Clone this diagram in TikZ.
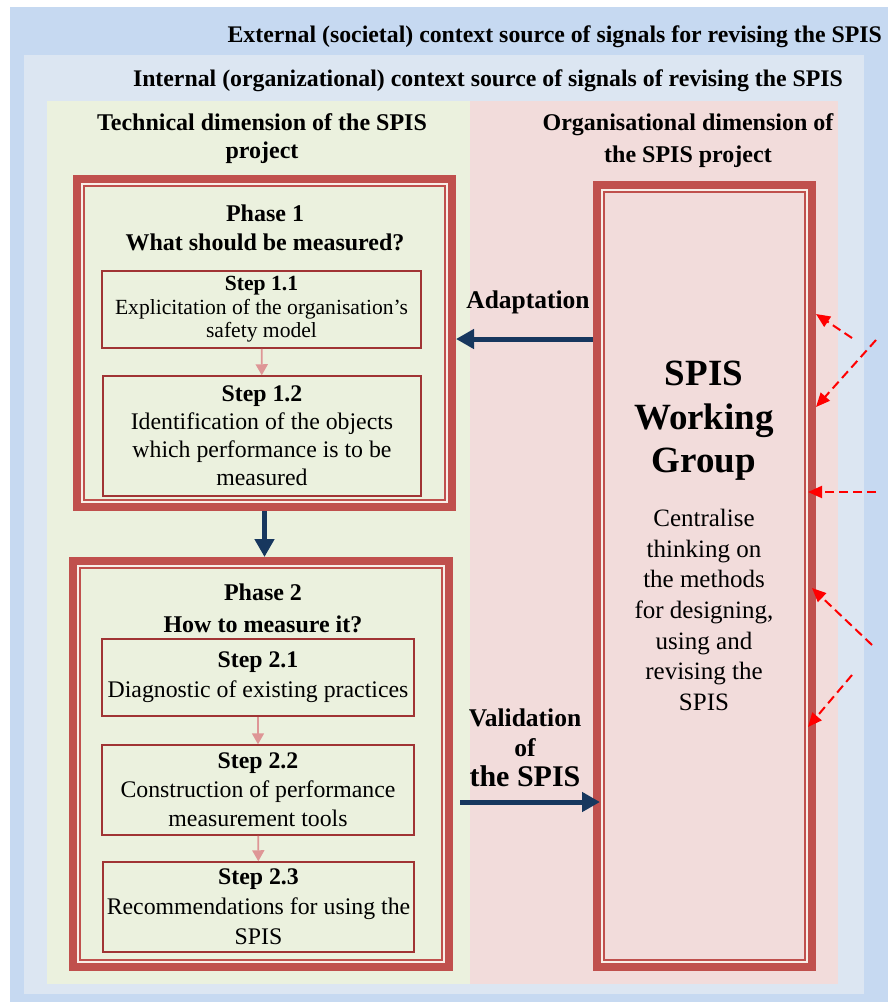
\documentclass[tikz,border=0pt]{standalone}
\usepackage{fontspec}
\setmainfont{Liberation Serif}
\usepackage{tikz}
\usetikzlibrary{calc,arrows.meta,positioning}
\definecolor{cOuter}{RGB}{198,217,241}
\definecolor{cInner}{RGB}{220,230,242}
\definecolor{cTech}{RGB}{235,241,222}
\definecolor{cOrg}{RGB}{242,220,219}
\definecolor{cRim}{RGB}{192,80,77}
\definecolor{cStep}{RGB}{160,52,52}
\definecolor{cGap}{RGB}{248,238,232}
\definecolor{cFlow}{RGB}{23,55,94}
\definecolor{cLink}{RGB}{222,150,150}
\definecolor{cSig}{RGB}{255,0,0}

\begin{document}
\begin{tikzpicture}[x=1pt,y=-1pt,
   frame/.style={draw=cRim,line width=8pt,inner sep=0pt},
   stepbox/.style={draw=cStep,line width=1.5pt,fill=cTech,align=center,inner sep=0pt},
   hdr/.style={font=\bfseries\fontsize{24}{28}\selectfont,align=center,inner sep=0pt},
   ttl/.style={font=\bfseries\fontsize{24}{29}\selectfont,align=center,inner sep=0pt},
   flow/.style={cFlow,line width=5pt,-{Triangle[length=18pt,width=19pt]}},
   link/.style={cLink,line width=1.8pt,-{Triangle[length=11pt,width=12pt]}},
   sig/.style={cSig,line width=2pt,dash pattern=on 9pt off 5pt,-{Triangle[length=14pt,width=12pt]}}]
  \useasboundingbox (0,0) rectangle (888,1002);
  % context layers
  \fill[white] (0,0) rectangle (888,1002);
  \fill[cOuter] (10,7) rectangle (888,1002);
  \fill[cInner] (24,55) rectangle (864,994);
  \fill[cTech] (47,101) rectangle (470,984);
  \fill[cOrg] (470,101) rectangle (838,984);
  \node[hdr,font=\bfseries\fontsize{23.8}{28}\selectfont,anchor=east] (ext) at (882,37) {External (societal) context source of signals for revising the SPIS};
  \node[hdr,font=\bfseries\fontsize{23.8}{28}\selectfont,anchor=east] (int) at (843,81) {Internal (organizational) context source of signals of revising the SPIS};
  \node[hdr] (tech) at (262,139) {Technical dimension of the SPIS\\project};
  \node[hdr,font=\bfseries\fontsize{24}{32}\selectfont] (org) at (688,141) {Organisational dimension of\\the SPIS project};

  % phases and working group
  \node[frame,minimum width=375pt,minimum height=328pt] (p1) at (264.5,343) {};
  \node[frame,minimum width=376pt,minimum height=406pt] (p2) at (261,764) {};
  \node[frame,fill=cOrg,minimum width=215pt,minimum height=782pt] (wg) at (704.5,576) {};
  \foreach \n in {p1,p2,wg}{
    \draw[cGap,line width=2pt] ([shift={(9pt,-9pt)}]\n.north west) rectangle ([shift={(-9pt,9pt)}]\n.south east);
    \draw[cRim,line width=2pt] ([shift={(11pt,-11pt)}]\n.north west) rectangle ([shift={(-11pt,11pt)}]\n.south east);
  }
  \node[ttl] (t1) at (265,228) {Phase 1\\What should be measured?};
  \node[ttl,font=\bfseries\fontsize{24}{32}\selectfont] (t2) at (263,608) {Phase 2\\How to measure it?};

  % steps
  \node[stepbox,minimum width=319pt,minimum height=77pt,font=\fontsize{21.6}{23.5}\selectfont] (s11) at (261.5,309.5)
    {\textbf{Step 1.1}\\Explicitation of the organisation’s\\safety model};
  \node[stepbox,minimum width=318pt,minimum height=120pt,font=\fontsize{23.8}{28}\selectfont] (s12) at (262,436)
    {\textbf{Step 1.2}\\Identification of the objects\\which performance is to be\\measured};
  \node[stepbox,minimum width=312pt,minimum height=77pt,font=\fontsize{23.8}{30}\selectfont] (s21) at (258,677.5)
    {\textbf{Step 2.1}\\Diagnostic of existing practices};
  \node[stepbox,minimum width=312pt,minimum height=90pt,font=\fontsize{23.8}{29}\selectfont] (s22) at (258,790)
    {\textbf{Step 2.2}\\Construction of performance\\measurement tools};
  \node[stepbox,minimum width=311pt,minimum height=90pt,font=\fontsize{23.8}{30}\selectfont] (s23) at (258.5,907)
    {\textbf{Step 2.3}\\Recommendations for using the\\SPIS};
  \draw[link] (s11) -- (s12);
  \draw[link] (s21) -- (s22);
  \draw[link] (s22) -- (s23);

  % working group text
  \node[align=center,font=\bfseries\fontsize{37}{43.5}\selectfont] (wgt) at (704,421) {SPIS\\Working\\Group};
  \node[align=center,font=\fontsize{25}{30.7}\selectfont] (wgb) at (704,610)
    {Centralise\\thinking on\\the methods\\for designing,\\using and\\revising the\\SPIS};

  % flows between the dimensions
  \draw[flow] (p1.south) -- (p1.south |- p2.north);
  \draw[flow] ($(wg.west)+(0,-237)$) -- ($(p1.east)+(0,-4)$);
  \draw[flow] ($(p2.east)+(7,38)$) -- ($(wg.west)+(7,226)$);
  \node[ttl,font=\bfseries\fontsize{25.5}{29}\selectfont] (ad) at (528,302) {Adaptation};
  \node[ttl,font=\bfseries\fontsize{25.5}{30}\selectfont] (va) at (525,748)
    {Validation\\of\\{\fontsize{30}{31}\selectfont the SPIS}};

  % signals from the contexts
  \coordinate (e1) at (852,338);
  \coordinate (e2) at (876,340);
  \coordinate (e3) at (876,492);
  \coordinate (e4) at (872,645);
  \coordinate (e5) at (852,675);
  \draw[sig] (e1) -- ($(wg.east)+(0,-262)$);
  \draw[sig] (e2) -- ($(wg.east)+(0,-169)$);
  \draw[sig] (e3) -- ($(wg.east)+(-8,-84)$);
  \draw[sig] (e4) -- ($(wg.east)+(-4,12)$);
  \draw[sig] (e5) -- ($(wg.east)+(-8,151)$);
\end{tikzpicture}
\end{document}
